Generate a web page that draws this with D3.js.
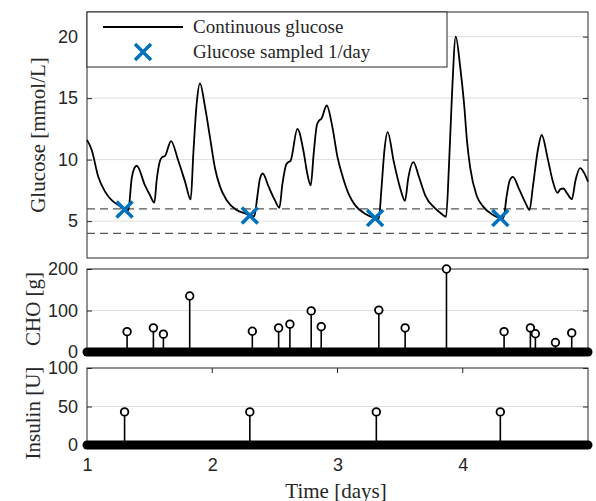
<!DOCTYPE html>
<html>
<head>
<meta charset="utf-8">
<script src="https://cdn.jsdelivr.net/npm/d3@7"></script>
<style>
  body { margin: 0; background: #fff; }
  svg { display: block; }
</style>
</head>
<body>
<svg id="chart" width="596" height="501"></svg>
<script>
// glucose trace (days, mmol/L)
var gluT = [1.000,1.037,1.090,1.144,1.197,1.250,1.300,1.330,1.357,1.378,1.397,1.463,1.503,1.538,1.556,1.583,1.600,1.623,1.671,1.729,1.783,1.828,1.849,1.876,1.902,1.942,1.982,2.022,2.062,2.115,2.195,2.275,2.300,2.336,2.360,2.380,2.403,2.450,2.500,2.536,2.560,2.590,2.608,2.625,2.680,2.730,2.760,2.786,2.810,2.835,2.855,2.870,2.914,2.960,3.000,3.034,3.087,3.140,3.220,3.300,3.330,3.350,3.375,3.400,3.450,3.500,3.539,3.565,3.606,3.650,3.700,3.780,3.830,3.867,3.890,3.915,3.944,3.980,4.010,4.035,4.060,4.110,4.165,4.230,4.300,4.325,4.350,4.375,4.400,4.450,4.500,4.533,4.560,4.600,4.630,4.680,4.720,4.756,4.780,4.804,4.830,4.871,4.900,4.937,4.970,5.000];
var gluV = [11.6,10.8,8.6,7.4,6.7,6.3,5.95,5.9,8.5,9.3,9.5,7.9,7.1,6.5,8.3,9.9,10.2,10.3,11.5,9.9,8.2,6.76,10.5,14.6,16.2,14.3,11.8,9.3,7.8,6.7,5.9,5.57,5.45,5.4,7.0,8.4,8.87,7.8,6.7,6.08,8.0,9.6,9.8,9.9,12.5,10.6,8.8,7.9,10.5,12.8,13.2,13.3,14.4,12.6,10.2,8.87,7.25,6.3,5.6,5.25,5.2,7.5,10.8,12.24,9.8,7.7,6.65,8.5,9.8,8.6,7.1,6.03,5.6,5.35,9.5,15.5,20.0,17.5,14.6,11.4,9.3,7.1,6.16,5.57,5.25,5.25,7.0,8.3,8.6,7.6,6.5,5.9,7.8,10.8,12.0,10.0,8.2,7.3,7.6,7.65,7.3,6.78,8.3,9.3,8.9,8.2];

// one sample per day
var sampleT = [1.30, 2.30, 3.30, 4.30];
var sampleV = [5.95, 5.45, 5.25, 5.25];

// hypo / target limits
var limits = [4, 6];

// meals
var choT = [1.32,1.53,1.61,1.82,2.32,2.53,2.62,2.79,2.87,3.33,3.54,3.87,4.33,4.54,4.58,4.74,4.87];
var choV = [49,58,43,135,50,58,67,99,61,101,58,200,49,58,44,23,46];

// insulin boluses
var insT = [1.30, 2.30, 3.31, 4.30];
var insV = [43, 43, 43, 43];

var gluTicks = [5, 10, 15, 20];
var choTicks = [0, 100, 200];
var insTicks = [0, 50, 100];
var dayTicks = [1, 2, 3, 4];

var svg = d3.select('#chart');
var axCol = '#262626', gridCol = '#dedede', blue = '#0072BD';
var sans = '"Liberation Sans", Arial, Helvetica, sans-serif';
var serif = '"Liberation Serif", "Times New Roman", serif';

var L = 87, R = 588;
var x = d3.scaleLinear().domain([1, 5]).range([L, R]);
var yG = d3.scaleLinear().domain([2, 22]).range([258, 12]);
var yC = d3.scaleLinear().domain([0, 200]).range([352, 269]);
var yI = d3.scaleLinear().domain([0, 100]).range([445, 368]);

function panel(y, ticks, gridVals) {
  var top = y.range()[1], bot = y.range()[0];
  var g = svg.append('g');
  g.selectAll('.grid').data(gridVals).enter().append('line')
    .attr('x1', L).attr('x2', R)
    .attr('y1', d => y(d)).attr('y2', d => y(d))
    .attr('stroke', gridCol).attr('stroke-width', 1);
  // left axis, ticks pointing inward
  var ax = g.append('g').attr('transform', 'translate(' + L + ',0)')
    .call(d3.axisLeft(y).tickValues(ticks).tickSize(-5).tickSizeOuter(0).tickPadding(9));
  ax.select('.domain').remove();
  ax.selectAll('line').attr('stroke', axCol);
  ax.selectAll('text').attr('font-family', sans).attr('font-size', 18).attr('fill', axCol);
  // right side ticks
  var ar = g.append('g').attr('transform', 'translate(' + R + ',0)')
    .call(d3.axisRight(y).tickValues(ticks).tickSize(-5).tickSizeOuter(0).tickFormat(''));
  ar.select('.domain').remove();
  ar.selectAll('line').attr('stroke', axCol);
  g.append('rect').attr('x', L).attr('y', top).attr('width', R - L).attr('height', bot - top)
    .attr('fill', 'none').attr('stroke', axCol).attr('stroke-width', 1);
  return g;
}

// ---- glucose panel
var g1 = panel(yG, gluTicks, gluTicks);
g1.selectAll('.lim').data(limits).enter().append('line')
  .attr('x1', L).attr('x2', R)
  .attr('y1', d => yG(d)).attr('y2', d => yG(d))
  .attr('stroke', '#555').attr('stroke-width', 1.3).attr('stroke-dasharray', '8,5');

var glu = gluT.map((t, i) => [t, gluV[i]]);
var line = d3.line().x(d => x(d[0])).y(d => yG(d[1])).curve(d3.curveMonotoneX);
g1.append('path').attr('d', line(glu))
  .attr('fill', 'none').attr('stroke', '#000').attr('stroke-width', 1.8);

function cross(sel, cx, cy, s) {
  sel.append('path')
    .attr('d', 'M' + (cx - s) + ',' + (cy - s) + 'L' + (cx + s) + ',' + (cy + s) +
               'M' + (cx - s) + ',' + (cy + s) + 'L' + (cx + s) + ',' + (cy - s))
    .attr('stroke', blue).attr('stroke-width', 3.5).attr('fill', 'none');
}
sampleT.forEach((t, i) => cross(g1, x(t), yG(sampleV[i]), 8));

// legend
var lg = svg.append('g');
lg.append('rect').attr('x', L).attr('y', 12).attr('width', 360).attr('height', 55)
  .attr('fill', '#fff').attr('stroke', axCol).attr('stroke-width', 1);
lg.append('line').attr('x1', 103).attr('x2', 183).attr('y1', 27).attr('y2', 27)
  .attr('stroke', '#000').attr('stroke-width', 1.8);
cross(lg, 143, 52, 8);
lg.append('text').attr('x', 193).attr('y', 33).text('Continuous glucose')
  .attr('font-family', serif).attr('font-size', 19).attr('fill', axCol);
lg.append('text').attr('x', 193).attr('y', 58).text('Glucose sampled 1/day')
  .attr('font-family', serif).attr('font-size', 19).attr('fill', axCol);

// ---- stem panels
function stems(g, y, ts, vs) {
  var d = ts.map((t, i) => [t, vs[i]]);
  g.selectAll('.stem').data(d).enter().append('line')
    .attr('x1', d => x(d[0])).attr('x2', d => x(d[0]))
    .attr('y1', y(0)).attr('y2', d => y(d[1]))
    .attr('stroke', '#000').attr('stroke-width', 1.6);
  g.selectAll('.mk').data(d).enter().append('circle')
    .attr('cx', d => x(d[0])).attr('cy', d => y(d[1])).attr('r', 3.8)
    .attr('fill', '#fff').attr('stroke', '#000').attr('stroke-width', 1.8);
  // zero-valued samples packed along the time axis
  g.append('line').attr('x1', x(1)).attr('x2', x(5)).attr('y1', y(0)).attr('y2', y(0))
    .attr('stroke', '#000').attr('stroke-width', 9).attr('stroke-linecap', 'round');
}

var g2 = panel(yC, choTicks, [100]);
stems(g2, yC, choT, choV);

var g3 = panel(yI, insTicks, [50]);
// day ticks on the top edge of the insulin panel
g3.selectAll('.dt').data(dayTicks.slice(1)).enter().append('line')
  .attr('x1', d => x(d)).attr('x2', d => x(d))
  .attr('y1', yI(100)).attr('y2', yI(100) + 5).attr('stroke', axCol);
stems(g3, yI, insT, insV);

var xa = svg.append('g').attr('transform', 'translate(0,' + yI(0) + ')')
  .call(d3.axisBottom(x).tickValues(dayTicks).tickFormat(d3.format('d')).tickSize(0).tickPadding(13));
xa.select('.domain').remove();
xa.selectAll('text').attr('font-family', sans).attr('font-size', 18).attr('fill', axCol);

// axis titles
function ylab(txt, cx, cy) {
  svg.append('text').attr('transform', 'translate(' + cx + ',' + cy + ') rotate(-90)')
    .attr('text-anchor', 'middle').text(txt)
    .attr('font-family', serif).attr('font-size', 21).attr('fill', axCol);
}
ylab('Glucose [mmol/L]', 45, 135);
ylab('CHO [g]', 40, 309);
ylab('Insulin [U]', 40, 413);
svg.append('text').attr('x', 336).attr('y', 498).attr('text-anchor', 'middle')
  .text('Time [days]').attr('font-family', serif).attr('font-size', 21).attr('fill', axCol);
</script>
</body>
</html>
